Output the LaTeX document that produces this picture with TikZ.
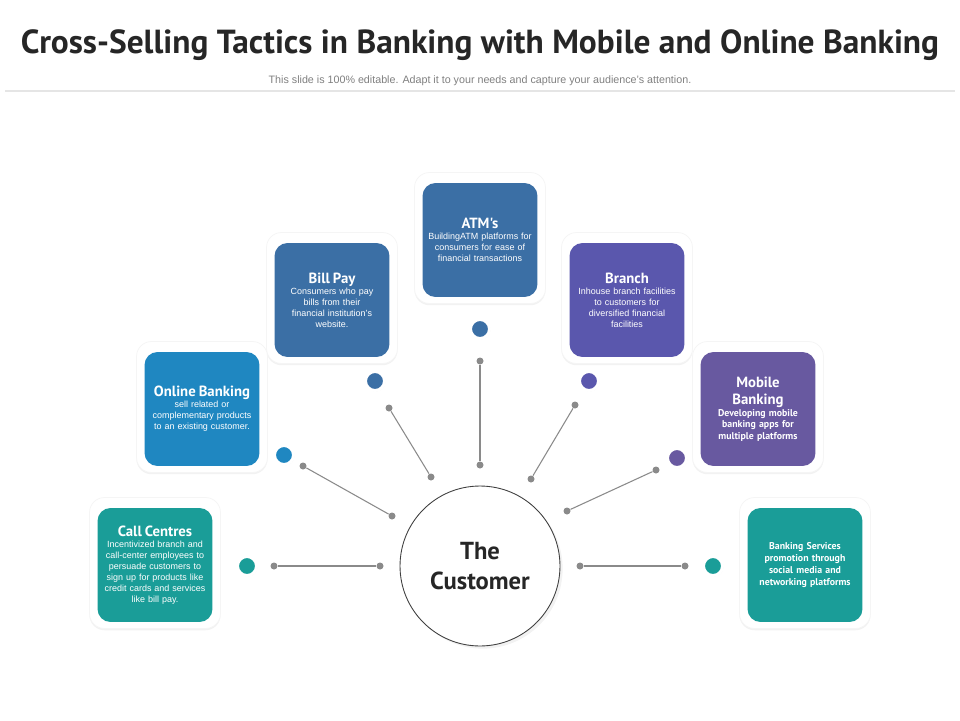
\documentclass[tikz,border=0pt]{standalone}
\usepackage{fontspec}
\setmainfont{Liberation Sans}
\newfontfamily\headfont{PT Sans}
\usetikzlibrary{shadows}
\definecolor{atmblue}{HTML}{3B6FA5}
\definecolor{branchviolet}{HTML}{5A57AD}
\definecolor{onlineblue}{HTML}{1F87C1}
\definecolor{mobilepurple}{HTML}{6859A0}
\definecolor{callteal}{HTML}{1A9D98}
\definecolor{linegray}{HTML}{8A8A8A}
\newcommand{\cardtitle}[1]{{\headfont\bfseries\fontsize{8.4}{9.6}\selectfont #1}}

\begin{document}
\begin{tikzpicture}[x=0.02cm, y=-0.02cm,
    frame/.style={fill=white, draw=black!4, rounded corners=0.3cm, minimum width=2.62cm, minimum height=2.62cm,
      drop shadow={opacity=0.1, shadow xshift=0pt, shadow yshift=-1pt}},
    card/.style={fill=#1, rounded corners=0.26cm, minimum width=2.3cm, minimum height=2.28cm, text width=2.2cm,
      align=center, text=white, inner sep=0pt, font=\fontsize{5.1}{6.3}\selectfont},
    bigdot/.style={circle, fill=#1, draw=white, line width=1.7pt, minimum size=0.38cm, inner sep=0pt,
      drop shadow={opacity=0.18, shadow xshift=0.5pt, shadow yshift=-0.5pt}},
    enddot/.style={circle, fill=linegray, minimum size=0.14cm, inner sep=0pt},
    conn/.style={draw=linegray, line width=0.6pt}]
  \useasboundingbox[fill=white] (0,0) rectangle (960,720);

  \node[font=\headfont\bfseries\fontsize{19}{22}\selectfont, text=black!85] (title) at (480,45)
    {Cross-Selling Tactics in Banking with Mobile and Online Banking};
  \node[font=\fontsize{6.1}{7}\selectfont, text=black!50] (subtitle) at (480,81)
    {This slide is 100\% editable. Adapt it to your needs and capture your audience's attention.};
  \draw[black!10, line width=0.6pt] (5,91) -- (955,91);

  \node[frame] at (480,238) {};
  \node[frame] at (332,298) {};
  \node[frame] at (627,298) {};
  \node[frame] at (202,407) {};
  \node[frame] at (758,407) {};
  \node[frame] at (155,563) {};
  \node[frame] at (805,563) {};

  \node[card=atmblue] (atm) at (480,240)
    {\cardtitle{ATM's}\\BuildingATM platforms for\\consumers for ease of\\financial transactions};
  \node[card=atmblue] (billpay) at (332,300)
    {\cardtitle{Bill Pay}\\Consumers who pay\\bills from their\\financial institution's\\website.};
  \node[card=branchviolet] (branch) at (627,300)
    {\cardtitle{Branch}\\Inhouse branch facilities\\to customers for\\diversified financial\\facilities};
  \node[card=onlineblue] (online) at (202,409)
    {\cardtitle{Online Banking}\\sell related or\\complementary products\\to an existing customer.};
  \node[card=mobilepurple, font=\headfont\bfseries\fontsize{5.6}{6.6}\selectfont] (mobile) at (758,409)
    {\cardtitle{Mobile}\\[3.2pt]\cardtitle{Banking}\\Developing mobile\\banking apps for\\multiple platforms};
  \node[card=callteal] (callc) at (155,565)
    {\cardtitle{Call Centres}\\Incentivized branch and\\call-center employees to\\persuade customers to\\sign up for products like\\credit cards and services\\like bill pay.};
  \node[card=callteal, font=\headfont\bfseries\fontsize{5.6}{7}\selectfont] (services) at (805,565)
    {Banking Services\\promotion through\\social media and\\networking platforms};

  \node[bigdot=atmblue] (atmdot) at (480,329) {};
  \node[bigdot=atmblue] (billdot) at (375,381) {};
  \node[bigdot=branchviolet] (branchdot) at (589,381) {};
  \node[bigdot=onlineblue] (onlinedot) at (284,455) {};
  \node[bigdot=mobilepurple] (mobiledot) at (677,458) {};
  \node[bigdot=callteal] (calldot) at (247,566) {};
  \node[bigdot=callteal] (servicesdot) at (713,566) {};

  \node[circle, draw=black!75, fill=white, line width=0.5pt, minimum size=3.2cm, align=center,
    font=\headfont\bfseries\fontsize{14}{16.6}\selectfont, text=black!85,
    drop shadow={opacity=0.1, shadow xshift=1.5pt, shadow yshift=-1.5pt}] (customer) at (480,566)
    {The\\Customer};

  \node[enddot] (atmA) at (480,361) {};
  \node[enddot] (atmB) at (480,465) {};
  \node[enddot] (billA) at (389,408) {};
  \node[enddot] (billB) at (431,477) {};
  \node[enddot] (branchA) at (575,405) {};
  \node[enddot] (branchB) at (531,479) {};
  \node[enddot] (onlineA) at (303,466) {};
  \node[enddot] (onlineB) at (392,516) {};
  \node[enddot] (mobileA) at (656,470) {};
  \node[enddot] (mobileB) at (567,511) {};
  \node[enddot] (callA) at (274,566) {};
  \node[enddot] (callB) at (380,566) {};
  \node[enddot] (servicesA) at (685,566) {};
  \node[enddot] (servicesB) at (580,566) {};

  \draw[conn] (atmA) -- (atmB);
  \draw[conn] (billA) -- (billB);
  \draw[conn] (branchA) -- (branchB);
  \draw[conn] (onlineA) -- (onlineB);
  \draw[conn] (mobileA) -- (mobileB);
  \draw[conn] (callA) -- (callB);
  \draw[conn] (servicesA) -- (servicesB);
\end{tikzpicture}
\end{document}
